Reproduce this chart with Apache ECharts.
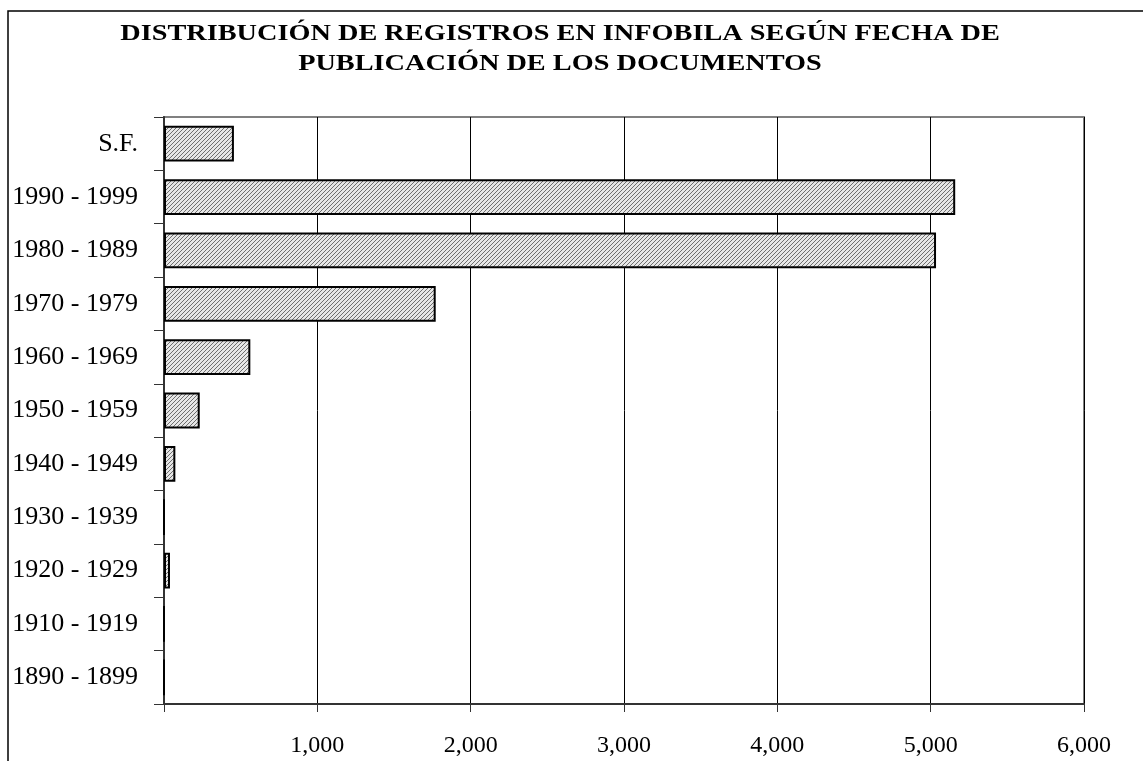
<!DOCTYPE html>
<html>
<head>
    <meta http-equiv="content-type" content="text/html;charset=utf-8" />
    <title>Infobila</title>
    <script src="https://cdn.jsdelivr.net/npm/echarts@6/dist/echarts.min.js"></script>
    <style>
        html, body { margin: 0; padding: 0; background: #fff; }
    </style>
</head>
<body>
    <div id="main" style="width: 1143px;height:761px;"></div>
    <script type="text/javascript">
        // periodos (de abajo hacia arriba) y numero de registros
        var periodos = ['1890 - 1899', '1910 - 1919', '1920 - 1929', '1930 - 1939', '1940 - 1949',
                        '1950 - 1959', '1960 - 1969', '1970 - 1979', '1980 - 1989', '1990 - 1999', 'S.F.'];
        var registros = [0, 0, 39, 0, 74, 233, 563, 1772, 5035, 5160, 456];
        var ejeX = [0, 1000, 2000, 3000, 4000, 5000, 6000];
        var titulo = 'DISTRIBUCIÓN DE REGISTROS EN INFOBILA SEGÚN FECHA DE\nPUBLICACIÓN DE LOS DOCUMENTOS';

        // trama rayada de las barras
        var trama = document.createElement('canvas');
        trama.width = 4;
        trama.height = 4;
        var ctx = trama.getContext('2d');
        ctx.fillStyle = '#e6e6e6';
        ctx.fillRect(0, 0, 4, 4);
        ctx.strokeStyle = '#6e6e6e';
        ctx.lineWidth = 1;
        ctx.beginPath();
        ctx.moveTo(-1, 5); ctx.lineTo(5, -1);
        ctx.moveTo(-1, 1); ctx.lineTo(1, -1);
        ctx.moveTo(3, 5); ctx.lineTo(5, 3);
        ctx.stroke();

        var myChart = echarts.init(document.getElementById('main'));
        var option = {
            animation: false,
            backgroundColor: '#fff',
            graphic: [{
                type: 'rect',
                shape: { x: 8, y: 11, width: 1200, height: 800 },
                style: { fill: 'none', stroke: '#000', lineWidth: 1.5 },
                silent: true
            }, {
                // titulo espaciado (ensanchado en horizontal)
                type: 'text',
                x: 560,
                y: 19,
                scaleX: 1.23,
                style: {
                    text: titulo,
                    fill: '#000',
                    font: 'bold 23px "Liberation Serif"',
                    lineHeight: 30,
                    textAlign: 'center',
                    textVerticalAlign: 'top'
                },
                silent: true
            }],
            grid: {
                left: 164, right: 59, top: 117, bottom: 57,
                show: true,
                borderColor: '#808080',
                borderWidth: 2
            },
            xAxis: {
                type: 'value',
                min: ejeX[0],
                max: ejeX[ejeX.length - 1],
                interval: 1000,
                axisLine: { show: true, lineStyle: { color: '#333', width: 2 } },
                axisTick: { show: true, length: 8, lineStyle: { color: '#333', width: 1 } },
                splitLine: { show: true, lineStyle: { color: '#000', width: 1 } },
                axisLabel: {
                    margin: 30,
                    color: '#000',
                    fontFamily: 'Liberation Serif',
                    fontSize: 24,
                    formatter: function (v) {
                        if (v === 0) return '';
                        return v.toLocaleString('en-US');
                    }
                }
            },
            yAxis: {
                type: 'category',
                data: periodos,
                axisLine: { show: true, lineStyle: { color: '#333', width: 2 } },
                axisTick: { show: true, length: 10, lineStyle: { color: '#333', width: 1 } },
                splitLine: { show: false },
                axisLabel: {
                    margin: 26,
                    color: '#000',
                    fontFamily: 'Liberation Serif',
                    fontSize: 26
                }
            },
            series: [{
                name: 'Registros',
                type: 'bar',
                data: registros,
                barCategoryGap: '33%',
                itemStyle: {
                    color: { image: trama, repeat: 'repeat' },
                    borderColor: '#000',
                    borderWidth: 2
                }
            }]
        };
        myChart.setOption(option);
    </script>
</body>
</html>
